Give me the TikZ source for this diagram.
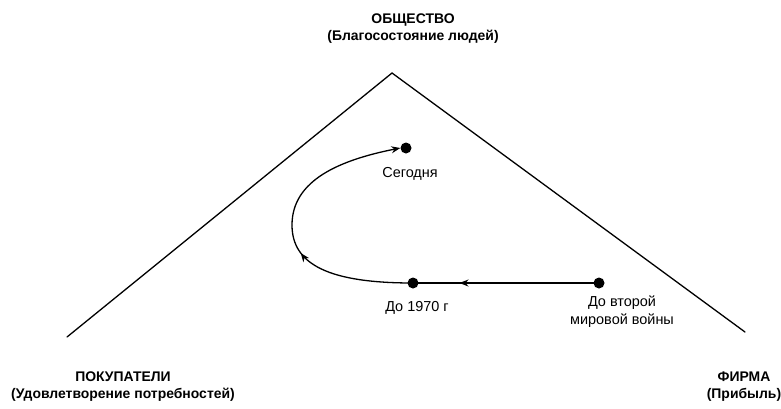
\documentclass[tikz,border=0pt]{standalone}
\usepackage{fontspec}
\setmainfont{Liberation Sans}
\usetikzlibrary{arrows.meta,decorations.markings}
\begin{document}
\begin{tikzpicture}[x=1bp,y=-1bp,
  side/.style={line width=1.3bp,line cap=round},
  path/.style={line width=1.3bp},
  dot/.style={circle,fill=black,inner sep=0pt,minimum size=11bp},
  lbl/.style={font=\fontsize{14.5}{17.5}\selectfont,align=center,inner sep=0pt},
  corner/.style={font=\bfseries\fontsize{14}{17}\selectfont,align=center,inner sep=0pt},
  midarrow/.style={postaction={decorate},decoration={markings,mark=at position #1 with {\arrow{Stealth[length=9bp,width=7bp]}}}}
]
\useasboundingbox (0,0) rectangle (781,408);
% triangle
\coordinate (L) at (67,337);
\coordinate (A) at (392,73);
\coordinate (R) at (745,332);
\draw[side] (L) -- (A) -- (R);
% corner labels
\node[corner] (soc) at (413,29) {ОБЩЕСТВО\\(Благосостояние людей)};
\node[corner] (buy) at (123,387) {ПОКУПАТЕЛИ\\(Удовлетворение потребностей)};
\node[corner] (firm) at (744,387) {ФИРМА\\(Прибыль)};
% dots
\node[dot] (today) at (406,148) {};
\node[dot] (d1970) at (413,283) {};
\node[dot] (dwar) at (599,283) {};
\node[lbl,anchor=north] (ltoday) at (410,167) {Сегодня};
\node[lbl,anchor=north] (l1970) at (417,301) {До 1970 г};
\node[lbl,anchor=north] (lwar) at (622,296) {До второй\\мировой войны};
% connectors
\draw[path,midarrow=0.75] (dwar.center) -- (d1970.center);
\draw[path,midarrow=0.8] (d1970.center) .. controls (330,283) and (292,265) .. (292,225);
\draw[path,-{Stealth[length=9bp,width=7bp]}] (292,225) .. controls (292,180) and (340,160) .. (today.west);
\end{tikzpicture}
\end{document}
